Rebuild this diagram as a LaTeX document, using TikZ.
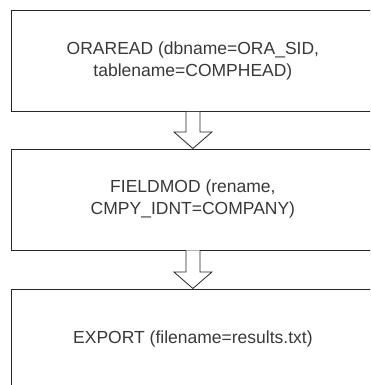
\documentclass[tikz,border=0pt]{standalone}
\usepackage{fontspec}
\setmainfont{Liberation Sans}
\usetikzlibrary{calc}
\begin{document}
\begin{tikzpicture}[x=1pt,y=-1pt,
    stagebox/.style={draw=black!85, line width=0.8pt, rectangle, anchor=north west,
      minimum width=363pt, minimum height=101pt, inner sep=0pt, align=center,
      text=black!78, font=\fontsize{17.5}{22}\selectfont},
    flowarrow/.style={draw=black!85, line width=0.8pt, fill=white}]
  \useasboundingbox (0,0) rectangle (370,385);
  \clip (0,0) rectangle (370,385);

  % processing stages
  \node[stagebox] (oraread) at (11,10) {ORAREAD (dbname=ORA\_SID,\\tablename=COMPHEAD)};
  \node[stagebox] (fieldmod) at (11,148.5) {FIELDMOD (rename,\\CMPY\_IDNT=COMPANY)};
  \node[stagebox] (export) at (11,288.5) {EXPORT (filename=results.txt)};

  % hollow block arrows between stages
  \draw[flowarrow] ($(oraread.south)+(-7,0)$) -- ($(fieldmod.north)+(-7,-16.5)$)
    -- ($(fieldmod.north)+(-19,-16.5)$) -- (fieldmod.north)
    -- ($(fieldmod.north)+(19,-16.5)$) -- ($(fieldmod.north)+(7,-16.5)$)
    -- ($(oraread.south)+(7,0)$);
  \draw[flowarrow] ($(fieldmod.south)+(-7,0)$) -- ($(export.north)+(-7,-16.5)$)
    -- ($(export.north)+(-19,-16.5)$) -- (export.north)
    -- ($(export.north)+(19,-16.5)$) -- ($(export.north)+(7,-16.5)$)
    -- ($(fieldmod.south)+(7,0)$);
\end{tikzpicture}
\end{document}
